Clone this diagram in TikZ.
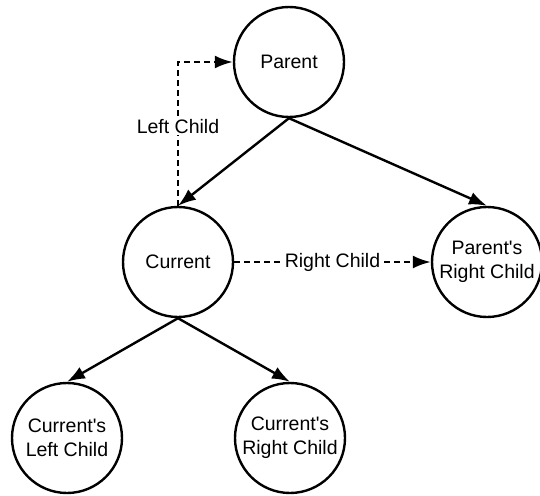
\documentclass[tikz,border=0pt]{standalone}
\usepackage{fontspec}
\setmainfont{Liberation Sans}
\usetikzlibrary{arrows.meta}
\begin{document}
\begin{tikzpicture}[x=1pt,y=-1pt,
  treenode/.style={circle,draw,line width=2.4pt,minimum size=110pt,inner sep=0pt,align=center,font=\fontsize{19.5}{24}\selectfont},
  edge/.style={line width=2.4pt,-{Latex[length=18pt,width=13pt]}},
  dashedge/.style={line width=2.4pt,dash pattern=on 6pt off 4pt,-{Latex[length=18pt,width=13pt]}},
  lbl/.style={fill=white,inner sep=1pt,font=\fontsize{19.5}{24}\selectfont}]
\useasboundingbox (0,0) rectangle (540,495);
\node[treenode] (parent) at (289,62) {Parent};
\node[treenode] (current) at (178,262) {Current};
\node[treenode] (prc) at (487,262) {Parent\textquotesingle s\\Right Child};
\node[treenode] (clc) at (67,438) {Current\textquotesingle s\\Left Child};
\node[treenode] (crc) at (290,438) {Current\textquotesingle s\\Right Child};
\draw[edge] (parent.south) -- (current.north);
\draw[edge] (parent.south) -- (prc.north);
\draw[edge] (current.south) -- (clc.north);
\draw[edge] (current.south) -- (crc.north);
\coordinate (corner) at (current.north |- parent.west);
\draw[dashedge] (current.north) -- node[lbl,pos=0.55] (llbl) {Left Child} (corner) -- (parent.west);
\draw[dashedge] (current.east) -- node[lbl] (rlbl) {Right Child} (prc.west);
\end{tikzpicture}
\end{document}
